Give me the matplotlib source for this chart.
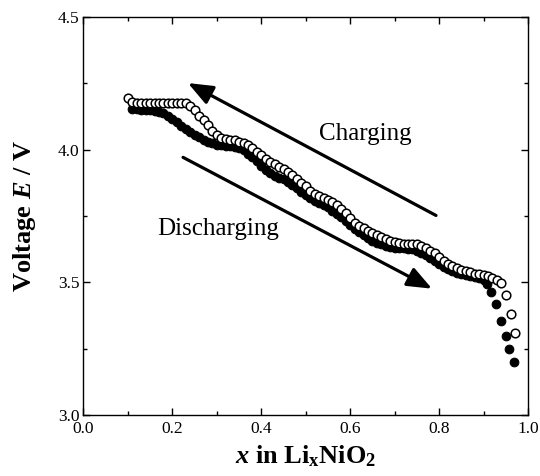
import matplotlib
matplotlib.use('Agg')
import matplotlib.pyplot as plt
from matplotlib.ticker import MultipleLocator, FormatStrFormatter
from matplotlib.transforms import ScaledTranslation

plt.rcParams['font.family'] = 'Liberation Serif'
plt.rcParams['mathtext.fontset'] = 'custom'
plt.rcParams['mathtext.rm'] = 'Liberation Serif'
plt.rcParams['mathtext.it'] = 'Liberation Serif:italic'
plt.rcParams['mathtext.bf'] = 'Liberation Serif:bold'
plt.rcParams['mathtext.bfit'] = 'Liberation Serif:italic:bold'

# charging curve (open circles)
x_charge = [0.10, 0.11, 0.12, 0.13, 0.14, 0.15, 0.16, 0.17, 0.18, 0.19,
            0.20, 0.21, 0.22, 0.23, 0.24, 0.25, 0.26, 0.27, 0.28, 0.29,
            0.30, 0.31, 0.32, 0.33, 0.34, 0.35, 0.36, 0.37, 0.38, 0.39,
            0.40, 0.41, 0.42, 0.43, 0.44, 0.45, 0.46, 0.47, 0.48, 0.49,
            0.50, 0.51, 0.52, 0.53, 0.54, 0.55, 0.56, 0.57, 0.58, 0.59,
            0.60, 0.61, 0.62, 0.63, 0.64, 0.65, 0.66, 0.67, 0.68, 0.69,
            0.70, 0.71, 0.72, 0.73, 0.74, 0.75, 0.76, 0.77, 0.78, 0.79,
            0.80, 0.81, 0.82, 0.83, 0.84, 0.85, 0.86, 0.87, 0.88, 0.89,
            0.90, 0.91, 0.92, 0.93, 0.94, 0.951, 0.962, 0.971]
v_charge = [4.194, 4.180, 4.175, 4.175, 4.175, 4.175, 4.175, 4.175, 4.175, 4.175,
            4.175, 4.175, 4.175, 4.174, 4.165, 4.148, 4.128, 4.112, 4.094, 4.072,
            4.055, 4.044, 4.040, 4.037, 4.035, 4.030, 4.024, 4.016, 4.005, 3.993,
            3.980, 3.966, 3.955, 3.946, 3.936, 3.927, 3.916, 3.903, 3.889, 3.875,
            3.862, 3.846, 3.834, 3.825, 3.818, 3.811, 3.803, 3.792, 3.778, 3.760,
            3.742, 3.725, 3.714, 3.703, 3.695, 3.687, 3.679, 3.670, 3.662, 3.656,
            3.651, 3.648, 3.646, 3.645, 3.645, 3.643, 3.637, 3.629, 3.619, 3.609,
            3.597, 3.582, 3.570, 3.563, 3.555, 3.547, 3.541, 3.537, 3.533, 3.530,
            3.527, 3.524, 3.518, 3.510, 3.497, 3.454, 3.382, 3.310]

# discharging curve (filled circles)
x_discharge = [0.11, 0.12, 0.13, 0.14, 0.15, 0.16, 0.17, 0.18, 0.19,
               0.20, 0.21, 0.22, 0.23, 0.24, 0.25, 0.26, 0.27, 0.28, 0.29,
               0.30, 0.31, 0.32, 0.33, 0.34, 0.35, 0.36, 0.37, 0.38, 0.39,
               0.40, 0.41, 0.42, 0.43, 0.44, 0.45, 0.46, 0.47, 0.48, 0.49,
               0.50, 0.51, 0.52, 0.53, 0.54, 0.55, 0.56, 0.57, 0.58, 0.59,
               0.60, 0.61, 0.62, 0.63, 0.64, 0.65, 0.66, 0.67, 0.68, 0.69,
               0.70, 0.71, 0.72, 0.73, 0.74, 0.75, 0.76, 0.77, 0.78, 0.79,
               0.80, 0.81, 0.82, 0.83, 0.84, 0.85, 0.86, 0.87, 0.88, 0.89,
               0.90, 0.908, 0.917, 0.928, 0.939, 0.950, 0.957, 0.969]
v_discharge = [4.152, 4.152, 4.151, 4.150, 4.149, 4.147, 4.143, 4.137, 4.128,
               4.116, 4.104, 4.091, 4.079, 4.067, 4.057, 4.047, 4.038, 4.030, 4.024,
               4.019, 4.016, 4.014, 4.012, 4.010, 4.005, 3.997, 3.985, 3.972, 3.956,
               3.940, 3.925, 3.912, 3.902, 3.895, 3.888, 3.879, 3.868, 3.855, 3.842,
               3.829, 3.817, 3.808, 3.800, 3.792, 3.782, 3.770, 3.757, 3.745, 3.730,
               3.715, 3.702, 3.690, 3.678, 3.667, 3.657, 3.649, 3.643, 3.638, 3.634,
               3.631, 3.629, 3.628, 3.626, 3.624, 3.619, 3.612, 3.603, 3.592, 3.580,
               3.568, 3.558, 3.549, 3.542, 3.536, 3.531, 3.527, 3.523, 3.520, 3.516,
               3.510, 3.495, 3.465, 3.420, 3.355, 3.299, 3.250, 3.200]

fig = plt.figure(figsize=(5.4, 4.76), dpi=100)
ax = fig.add_axes([0.1546, 0.1282, 0.8232, 0.8361])

ax.plot(x_discharge, v_discharge, 'o', color='black', ms=6.2, mec='black', mew=0.8)
ax.plot(x_charge, v_charge, 'o', mfc='white', mec='black', ms=6.2, mew=1.1)

arrow_style = dict(arrowstyle='-|>,head_length=0.75,head_width=0.3', color='black',
                   lw=2.3, mutation_scale=20, shrinkA=0, shrinkB=0)
ax.annotate('', xy=(0.235, 4.251), xytext=(0.793, 3.752), arrowprops=arrow_style)
ax.annotate('', xy=(0.784, 3.476), xytext=(0.224, 3.971), arrowprops=arrow_style)

ax.text(0.633, 4.06, 'Charging', fontsize=18, ha='center', va='center')
ax.text(0.303, 3.70, 'Discharging', fontsize=18, ha='center', va='center')

ax.set_xlim(0.0, 1.0)
ax.set_ylim(3.0, 4.5)
ax.xaxis.set_major_locator(MultipleLocator(0.2))
ax.xaxis.set_minor_locator(MultipleLocator(0.1))
ax.yaxis.set_major_locator(MultipleLocator(0.5))
ax.yaxis.set_minor_locator(MultipleLocator(0.25))
ax.xaxis.set_major_formatter(FormatStrFormatter('%.1f'))
ax.yaxis.set_major_formatter(FormatStrFormatter('%.1f'))
ax.tick_params(which='both', direction='in', top=True, right=True, labelsize=12.5)
ax.tick_params(axis='x', pad=4)
ax.tick_params(axis='y', pad=3)
ax.tick_params(which='major', length=5, width=1)
ax.tick_params(which='minor', length=3, width=1)
for s in ax.spines.values():
    s.set_linewidth(1.0)

ax.set_xlabel(r'$\mathbfit{x}$ in Li$_{\mathbf{x}}$NiO$_{\mathbf{2}}$', fontsize=19,
              fontweight='bold', labelpad=5)
ax.set_ylabel(r'Voltage $\mathbfit{E}$ / V', fontsize=19, fontweight='bold', labelpad=14)

# lift the bottom y label a little so it clears the 0.0 label
fig.canvas.draw()
lbl = ax.yaxis.get_major_ticks()[0].label1
lbl.set_transform(lbl.get_transform() + ScaledTranslation(0, 4 / 72, fig.dpi_scale_trans))

fig.savefig('out.png', dpi=100)
